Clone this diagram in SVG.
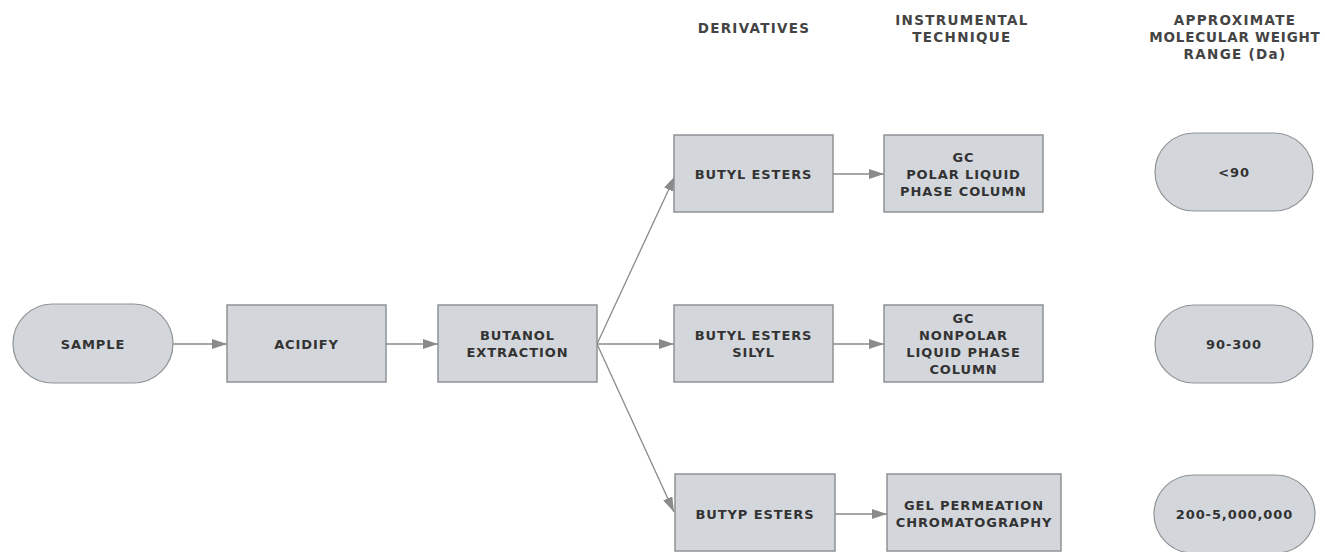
<svg xmlns="http://www.w3.org/2000/svg" width="1325" height="552" viewBox="0 0 1325 552">
<defs>
<style>
.box{fill:#d3d7dc;stroke:#8f9396;stroke-width:1.5}
.pill{fill:#d3d7dc;stroke:#8f9396;stroke-width:1.2}
.t{font-family:"DejaVu Sans",Verdana,sans-serif;font-weight:bold;font-size:13px;letter-spacing:0.9px;fill:#333;text-anchor:middle}
.h{font-family:"DejaVu Sans",Verdana,sans-serif;font-weight:bold;font-size:13.5px;letter-spacing:1.3px;fill:#444;text-anchor:middle}
.c{stroke:#8a8a8a;stroke-width:1.3;fill:none;marker-end:url(#ah)}
</style>
<marker id="ah" markerWidth="15" markerHeight="10" refX="15" refY="5" orient="auto" markerUnits="userSpaceOnUse">
<path d="M0,0 L15,5 L0,10 Z" fill="#8a8a8a"/>
</marker>
</defs>
<rect width="1325" height="552" fill="#fff"/>
<g id="headers">
<text class="h" x="754" y="33">DERIVATIVES</text>
<text class="h" x="962" y="25">INSTRUMENTAL</text>
<text class="h" x="962" y="42">TECHNIQUE</text>
<text class="h" x="1235" y="25">APPROXIMATE</text>
<text class="h" x="1235" y="42" style="letter-spacing:0.8px">MOLECULAR WEIGHT</text>
<text class="h" x="1235" y="59">RANGE (Da)</text>
</g>
<g id="connectors">
<line class="c" x1="173" y1="344" x2="227" y2="344"/>
<line class="c" x1="386" y1="344" x2="438" y2="344"/>
<line class="c" x1="597" y1="344" x2="674" y2="344"/>
<line class="c" x1="597" y1="344" x2="675" y2="176"/>
<line class="c" x1="597" y1="344" x2="674" y2="512"/>
<line class="c" x1="833" y1="174" x2="884" y2="174"/>
<line class="c" x1="833" y1="344" x2="884" y2="344"/>
<line class="c" x1="835" y1="514" x2="887" y2="514"/>
</g>
<g id="sample">
<rect class="pill" x="13" y="304" width="160" height="79" rx="39.5"/>
<text class="t" x="93" y="349">SAMPLE</text>
</g>
<g id="acidify">
<rect class="box" x="227" y="305" width="159" height="77"/>
<text class="t" x="306.5" y="349">ACIDIFY</text>
</g>
<g id="butanol">
<rect class="box" x="438" y="305" width="159" height="77"/>
<text class="t" x="517.5" y="340">BUTANOL</text>
<text class="t" x="517.5" y="357">EXTRACTION</text>
</g>
<g id="butyl">
<rect class="box" x="674" y="135" width="159" height="77"/>
<text class="t" x="753.5" y="179">BUTYL ESTERS</text>
</g>
<g id="butylsilyl">
<rect class="box" x="674" y="305" width="159" height="77"/>
<text class="t" x="753.5" y="340">BUTYL ESTERS</text>
<text class="t" x="753.5" y="357">SILYL</text>
</g>
<g id="butyp">
<rect class="box" x="675" y="474" width="160" height="77"/>
<text class="t" x="755" y="519">BUTYP ESTERS</text>
</g>
<g id="gcpolar">
<rect class="box" x="884" y="135" width="159" height="77"/>
<text class="t" x="963.5" y="162">GC</text>
<text class="t" x="963.5" y="179">POLAR LIQUID</text>
<text class="t" x="963.5" y="196">PHASE COLUMN</text>
</g>
<g id="gcnonpolar">
<rect class="box" x="884" y="305" width="159" height="77"/>
<text class="t" x="963.5" y="323">GC</text>
<text class="t" x="963.5" y="340">NONPOLAR</text>
<text class="t" x="963.5" y="357">LIQUID PHASE</text>
<text class="t" x="963.5" y="374">COLUMN</text>
</g>
<g id="gel">
<rect class="box" x="887" y="474" width="174" height="77"/>
<text class="t" x="974" y="510">GEL PERMEATION</text>
<text class="t" x="974" y="527">CHROMATOGRAPHY</text>
</g>
<g id="r90">
<rect class="pill" x="1155" y="133" width="158" height="78" rx="39"/>
<text class="t" x="1234" y="177">&lt;90</text>
</g>
<g id="r300">
<rect class="pill" x="1155" y="305" width="158" height="78" rx="39"/>
<text class="t" x="1234" y="349">90-300</text>
</g>
<g id="r5m">
<rect class="pill" x="1154" y="475" width="161" height="78" rx="39"/>
<text class="t" x="1234.5" y="519">200-5,000,000</text>
</g>
</svg>
